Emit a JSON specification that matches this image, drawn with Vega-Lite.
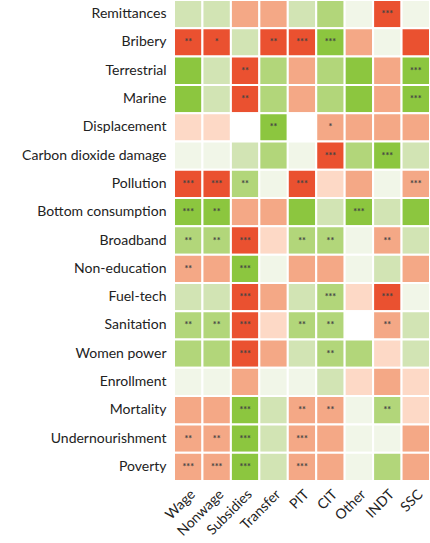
{
  "$schema": "https://vega.github.io/schema/vega-lite/v6.json",
  "width": 256,
  "height": 481,
  "autosize": {"type": "none"},
  "padding": {"left": 174, "top": 0, "right": 0, "bottom": 62},
  "background": "white",
  "config": {"view": {"stroke": null}, "font": "Lato"},
  "datasets": {
    "grid": [
      {"row": "Remittances", "col": "Wage", "level": "G1", "sig": ""},
      {"row": "Remittances", "col": "Nonwage", "level": "G1", "sig": ""},
      {"row": "Remittances", "col": "Subsidies", "level": "R2", "sig": ""},
      {"row": "Remittances", "col": "Transfer", "level": "R2", "sig": ""},
      {"row": "Remittances", "col": "PIT", "level": "G1", "sig": ""},
      {"row": "Remittances", "col": "CIT", "level": "G2", "sig": ""},
      {"row": "Remittances", "col": "Other", "level": "N", "sig": ""},
      {"row": "Remittances", "col": "INDT", "level": "R3", "sig": "***"},
      {"row": "Remittances", "col": "SSC", "level": "N", "sig": ""},
      {"row": "Bribery", "col": "Wage", "level": "R3", "sig": "**"},
      {"row": "Bribery", "col": "Nonwage", "level": "R3", "sig": "*"},
      {"row": "Bribery", "col": "Subsidies", "level": "G1", "sig": ""},
      {"row": "Bribery", "col": "Transfer", "level": "R3", "sig": "**"},
      {"row": "Bribery", "col": "PIT", "level": "R3", "sig": "***"},
      {"row": "Bribery", "col": "CIT", "level": "G3", "sig": "***"},
      {"row": "Bribery", "col": "Other", "level": "R2", "sig": ""},
      {"row": "Bribery", "col": "INDT", "level": "N", "sig": ""},
      {"row": "Bribery", "col": "SSC", "level": "R3", "sig": ""},
      {"row": "Terrestrial", "col": "Wage", "level": "G3", "sig": ""},
      {"row": "Terrestrial", "col": "Nonwage", "level": "G1", "sig": ""},
      {"row": "Terrestrial", "col": "Subsidies", "level": "R3", "sig": "**"},
      {"row": "Terrestrial", "col": "Transfer", "level": "G2", "sig": ""},
      {"row": "Terrestrial", "col": "PIT", "level": "R2", "sig": ""},
      {"row": "Terrestrial", "col": "CIT", "level": "G2", "sig": ""},
      {"row": "Terrestrial", "col": "Other", "level": "G3", "sig": ""},
      {"row": "Terrestrial", "col": "INDT", "level": "R2", "sig": ""},
      {"row": "Terrestrial", "col": "SSC", "level": "G3", "sig": "***"},
      {"row": "Marine", "col": "Wage", "level": "G3", "sig": ""},
      {"row": "Marine", "col": "Nonwage", "level": "G1", "sig": ""},
      {"row": "Marine", "col": "Subsidies", "level": "R3", "sig": "**"},
      {"row": "Marine", "col": "Transfer", "level": "G2", "sig": ""},
      {"row": "Marine", "col": "PIT", "level": "R2", "sig": ""},
      {"row": "Marine", "col": "CIT", "level": "G2", "sig": ""},
      {"row": "Marine", "col": "Other", "level": "G3", "sig": ""},
      {"row": "Marine", "col": "INDT", "level": "R2", "sig": ""},
      {"row": "Marine", "col": "SSC", "level": "G3", "sig": "***"},
      {"row": "Displacement", "col": "Wage", "level": "R1", "sig": ""},
      {"row": "Displacement", "col": "Nonwage", "level": "R1", "sig": ""},
      {"row": "Displacement", "col": "Subsidies", "level": "W", "sig": ""},
      {"row": "Displacement", "col": "Transfer", "level": "G3", "sig": "**"},
      {"row": "Displacement", "col": "PIT", "level": "W", "sig": ""},
      {"row": "Displacement", "col": "CIT", "level": "R2", "sig": "*"},
      {"row": "Displacement", "col": "Other", "level": "R2", "sig": ""},
      {"row": "Displacement", "col": "INDT", "level": "R2", "sig": ""},
      {"row": "Displacement", "col": "SSC", "level": "R2", "sig": ""},
      {"row": "Carbon dioxide damage", "col": "Wage", "level": "N", "sig": ""},
      {"row": "Carbon dioxide damage", "col": "Nonwage", "level": "N", "sig": ""},
      {"row": "Carbon dioxide damage", "col": "Subsidies", "level": "G1", "sig": ""},
      {"row": "Carbon dioxide damage", "col": "Transfer", "level": "G2", "sig": ""},
      {"row": "Carbon dioxide damage", "col": "PIT", "level": "N", "sig": ""},
      {"row": "Carbon dioxide damage", "col": "CIT", "level": "R3", "sig": "***"},
      {"row": "Carbon dioxide damage", "col": "Other", "level": "G2", "sig": ""},
      {"row": "Carbon dioxide damage", "col": "INDT", "level": "G3", "sig": "***"},
      {"row": "Carbon dioxide damage", "col": "SSC", "level": "G1", "sig": ""},
      {"row": "Pollution", "col": "Wage", "level": "R3", "sig": "***"},
      {"row": "Pollution", "col": "Nonwage", "level": "R3", "sig": "***"},
      {"row": "Pollution", "col": "Subsidies", "level": "G2", "sig": "**"},
      {"row": "Pollution", "col": "Transfer", "level": "N", "sig": ""},
      {"row": "Pollution", "col": "PIT", "level": "R3", "sig": "***"},
      {"row": "Pollution", "col": "CIT", "level": "R1", "sig": ""},
      {"row": "Pollution", "col": "Other", "level": "R2", "sig": ""},
      {"row": "Pollution", "col": "INDT", "level": "N", "sig": ""},
      {"row": "Pollution", "col": "SSC", "level": "R2", "sig": "***"},
      {"row": "Bottom consumption", "col": "Wage", "level": "G3", "sig": "***"},
      {"row": "Bottom consumption", "col": "Nonwage", "level": "G3", "sig": "**"},
      {"row": "Bottom consumption", "col": "Subsidies", "level": "R2", "sig": ""},
      {"row": "Bottom consumption", "col": "Transfer", "level": "R2", "sig": ""},
      {"row": "Bottom consumption", "col": "PIT", "level": "G3", "sig": ""},
      {"row": "Bottom consumption", "col": "CIT", "level": "G1", "sig": ""},
      {"row": "Bottom consumption", "col": "Other", "level": "G3", "sig": "***"},
      {"row": "Bottom consumption", "col": "INDT", "level": "G1", "sig": ""},
      {"row": "Bottom consumption", "col": "SSC", "level": "G3", "sig": ""},
      {"row": "Broadband", "col": "Wage", "level": "G2", "sig": "**"},
      {"row": "Broadband", "col": "Nonwage", "level": "G2", "sig": "**"},
      {"row": "Broadband", "col": "Subsidies", "level": "R3", "sig": "***"},
      {"row": "Broadband", "col": "Transfer", "level": "R1", "sig": ""},
      {"row": "Broadband", "col": "PIT", "level": "G2", "sig": "**"},
      {"row": "Broadband", "col": "CIT", "level": "G2", "sig": "**"},
      {"row": "Broadband", "col": "Other", "level": "N", "sig": ""},
      {"row": "Broadband", "col": "INDT", "level": "R2", "sig": "**"},
      {"row": "Broadband", "col": "SSC", "level": "G1", "sig": ""},
      {"row": "Non-education", "col": "Wage", "level": "R2", "sig": "**"},
      {"row": "Non-education", "col": "Nonwage", "level": "R2", "sig": ""},
      {"row": "Non-education", "col": "Subsidies", "level": "G3", "sig": "***"},
      {"row": "Non-education", "col": "Transfer", "level": "N", "sig": ""},
      {"row": "Non-education", "col": "PIT", "level": "R2", "sig": ""},
      {"row": "Non-education", "col": "CIT", "level": "R2", "sig": ""},
      {"row": "Non-education", "col": "Other", "level": "N", "sig": ""},
      {"row": "Non-education", "col": "INDT", "level": "G1", "sig": ""},
      {"row": "Non-education", "col": "SSC", "level": "R2", "sig": ""},
      {"row": "Fuel-tech", "col": "Wage", "level": "G1", "sig": ""},
      {"row": "Fuel-tech", "col": "Nonwage", "level": "G1", "sig": ""},
      {"row": "Fuel-tech", "col": "Subsidies", "level": "R3", "sig": "***"},
      {"row": "Fuel-tech", "col": "Transfer", "level": "R2", "sig": ""},
      {"row": "Fuel-tech", "col": "PIT", "level": "G1", "sig": ""},
      {"row": "Fuel-tech", "col": "CIT", "level": "G2", "sig": "***"},
      {"row": "Fuel-tech", "col": "Other", "level": "R1", "sig": ""},
      {"row": "Fuel-tech", "col": "INDT", "level": "R3", "sig": "***"},
      {"row": "Fuel-tech", "col": "SSC", "level": "N", "sig": ""},
      {"row": "Sanitation", "col": "Wage", "level": "G2", "sig": "**"},
      {"row": "Sanitation", "col": "Nonwage", "level": "G2", "sig": "**"},
      {"row": "Sanitation", "col": "Subsidies", "level": "R3", "sig": "***"},
      {"row": "Sanitation", "col": "Transfer", "level": "R1", "sig": ""},
      {"row": "Sanitation", "col": "PIT", "level": "G2", "sig": "**"},
      {"row": "Sanitation", "col": "CIT", "level": "G2", "sig": "**"},
      {"row": "Sanitation", "col": "Other", "level": "W", "sig": ""},
      {"row": "Sanitation", "col": "INDT", "level": "R2", "sig": "**"},
      {"row": "Sanitation", "col": "SSC", "level": "G1", "sig": ""},
      {"row": "Women power", "col": "Wage", "level": "G2", "sig": ""},
      {"row": "Women power", "col": "Nonwage", "level": "G2", "sig": ""},
      {"row": "Women power", "col": "Subsidies", "level": "R3", "sig": "***"},
      {"row": "Women power", "col": "Transfer", "level": "R2", "sig": ""},
      {"row": "Women power", "col": "PIT", "level": "G1", "sig": ""},
      {"row": "Women power", "col": "CIT", "level": "G2", "sig": "**"},
      {"row": "Women power", "col": "Other", "level": "G2", "sig": ""},
      {"row": "Women power", "col": "INDT", "level": "R1", "sig": ""},
      {"row": "Women power", "col": "SSC", "level": "G1", "sig": ""},
      {"row": "Enrollment", "col": "Wage", "level": "N", "sig": ""},
      {"row": "Enrollment", "col": "Nonwage", "level": "N", "sig": ""},
      {"row": "Enrollment", "col": "Subsidies", "level": "R2", "sig": ""},
      {"row": "Enrollment", "col": "Transfer", "level": "N", "sig": ""},
      {"row": "Enrollment", "col": "PIT", "level": "N", "sig": ""},
      {"row": "Enrollment", "col": "CIT", "level": "G1", "sig": ""},
      {"row": "Enrollment", "col": "Other", "level": "R1", "sig": ""},
      {"row": "Enrollment", "col": "INDT", "level": "R2", "sig": ""},
      {"row": "Enrollment", "col": "SSC", "level": "R1", "sig": ""},
      {"row": "Mortality", "col": "Wage", "level": "R2", "sig": ""},
      {"row": "Mortality", "col": "Nonwage", "level": "R2", "sig": ""},
      {"row": "Mortality", "col": "Subsidies", "level": "G3", "sig": "***"},
      {"row": "Mortality", "col": "Transfer", "level": "G1", "sig": ""},
      {"row": "Mortality", "col": "PIT", "level": "R2", "sig": "**"},
      {"row": "Mortality", "col": "CIT", "level": "R2", "sig": "**"},
      {"row": "Mortality", "col": "Other", "level": "N", "sig": ""},
      {"row": "Mortality", "col": "INDT", "level": "G2", "sig": "**"},
      {"row": "Mortality", "col": "SSC", "level": "R1", "sig": ""},
      {"row": "Undernourishment", "col": "Wage", "level": "R2", "sig": "**"},
      {"row": "Undernourishment", "col": "Nonwage", "level": "R2", "sig": "**"},
      {"row": "Undernourishment", "col": "Subsidies", "level": "G3", "sig": "***"},
      {"row": "Undernourishment", "col": "Transfer", "level": "G1", "sig": ""},
      {"row": "Undernourishment", "col": "PIT", "level": "R2", "sig": "***"},
      {"row": "Undernourishment", "col": "CIT", "level": "R2", "sig": ""},
      {"row": "Undernourishment", "col": "Other", "level": "N", "sig": ""},
      {"row": "Undernourishment", "col": "INDT", "level": "N", "sig": ""},
      {"row": "Undernourishment", "col": "SSC", "level": "R2", "sig": ""},
      {"row": "Poverty", "col": "Wage", "level": "R2", "sig": "***"},
      {"row": "Poverty", "col": "Nonwage", "level": "R2", "sig": "***"},
      {"row": "Poverty", "col": "Subsidies", "level": "G3", "sig": "***"},
      {"row": "Poverty", "col": "Transfer", "level": "G1", "sig": ""},
      {"row": "Poverty", "col": "PIT", "level": "R2", "sig": "***"},
      {"row": "Poverty", "col": "CIT", "level": "R2", "sig": ""},
      {"row": "Poverty", "col": "Other", "level": "N", "sig": ""},
      {"row": "Poverty", "col": "INDT", "level": "G2", "sig": ""},
      {"row": "Poverty", "col": "SSC", "level": "R2", "sig": ""}
    ]
  },
  "data": {"name": "grid"},
  "encoding": {
    "x": {
      "field": "col", "type": "nominal",
      "sort": ["Wage", "Nonwage", "Subsidies", "Transfer", "PIT", "CIT", "Other", "INDT", "SSC"],
      "scale": {"paddingInner": 0, "paddingOuter": 0},
      "axis": {"title": null, "orient": "bottom", "labelAngle": -45, "labelFontSize": 14, "labelColor": "#222222", "labelFont": "Lato", "ticks": false, "domain": false, "labelPadding": 6}
    },
    "y": {
      "field": "row", "type": "nominal",
      "sort": ["Remittances", "Bribery", "Terrestrial", "Marine", "Displacement", "Carbon dioxide damage", "Pollution", "Bottom consumption", "Broadband", "Non-education", "Fuel-tech", "Sanitation", "Women power", "Enrollment", "Mortality", "Undernourishment", "Poverty"],
      "scale": {"paddingInner": 0, "paddingOuter": 0},
      "axis": {"title": null, "labelFontSize": 14, "labelColor": "#222222", "labelFont": "Lato", "ticks": false, "domain": false, "labelPadding": 8}
    }
  },
  "layer": [
    {
      "mark": {"type": "rect", "stroke": "white", "strokeWidth": 2},
      "encoding": {
        "color": {
          "field": "level", "type": "nominal", "legend": null,
          "scale": {
            "domain": ["R3", "R2", "R1", "N", "W", "G1", "G2", "G3"],
            "range": ["#EA5130", "#F4A886", "#FDD9C6", "#F1F6E8", "#FFFFFF", "#D2E4B4", "#B2D67A", "#8CC63F"]
          }
        }
      }
    },
    {
      "mark": {"type": "text", "fontSize": 9, "color": "#444444", "baseline": "middle", "align": "center", "fontWeight": "bold"},
      "encoding": {"text": {"field": "sig"}}
    }
  ]
}
